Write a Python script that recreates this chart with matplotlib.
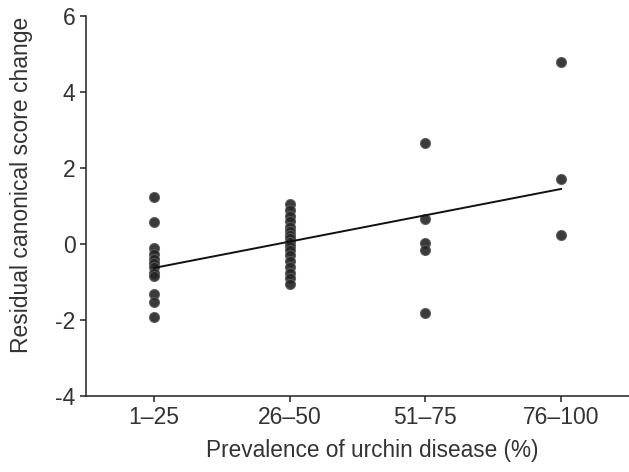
import numpy as np
import matplotlib
matplotlib.use('Agg')
import matplotlib.pyplot as plt

plt.rcParams['font.family'] = ['Liberation Sans', 'DejaVu Sans']
plt.rcParams['axes.unicode_minus'] = False

# categories (plotted at positions 1..4)
categories = ['1\u201325', '26\u201350', '51\u201375', '76\u2013100']

# residual canonical score change
scores_1_25 = [1.24, 0.58, -0.1, -0.25, -0.4, -0.5, -0.6, -0.75, -0.85,
               -1.32, -1.53, -1.92]
scores_26_50 = [1.06, 0.9, 0.75, 0.6, 0.45, 0.35, 0.25, 0.15, 0.05, -0.05,
                -0.15, -0.3, -0.45, -0.6, -0.75, -0.9, -1.05]
scores_51_75 = [2.66, 0.66, 0.03, -0.15, -1.82]
scores_76_100 = [4.79, 1.71, 0.24]

# fitted line end points
fit_x = [1.0, 4.0]
fit_y = [-0.63, 1.45]

groups = [scores_1_25, scores_26_50, scores_51_75, scores_76_100]

fig = plt.figure(figsize=(6.29, 4.72), dpi=100)
ax = fig.add_axes([0.1367, 0.161, 0.8633, 0.805])

for i, vals in enumerate(groups):
    ax.plot(np.full(len(vals), i + 1), vals, 'o', ms=7.2,
            mfc='#262626', mec='#5a5a5a', mew=0.8, alpha=0.9, zorder=3)

ax.plot(fit_x, fit_y, color='#111111', lw=1.4, zorder=4)

ax.set_xlim(0.5, 4.5)
ax.set_ylim(-4, 6)
ax.set_xticks([1, 2, 3, 4])
ax.set_xticklabels(categories)
ax.set_yticks([-4, -2, 0, 2, 4, 6])

for s in ['top', 'right']:
    ax.spines[s].set_visible(False)
for s in ['left', 'bottom']:
    ax.spines[s].set_linewidth(1.1)
    ax.spines[s].set_color('#222222')

ax.tick_params(direction='out', length=4, width=1.1, colors='#222222',
               labelsize=16.5, labelcolor='#333333')
ax.set_xlabel('Prevalence of urchin disease (%)', fontsize=16.3,
              color='#333333')
ax.set_ylabel('Residual canonical score change', fontsize=16.5,
              color='#333333')
ax.xaxis.set_label_coords(0.527, -0.112)
ax.yaxis.set_label_coords(-0.098, 0.555)

fig.savefig('out.png', dpi=100)
